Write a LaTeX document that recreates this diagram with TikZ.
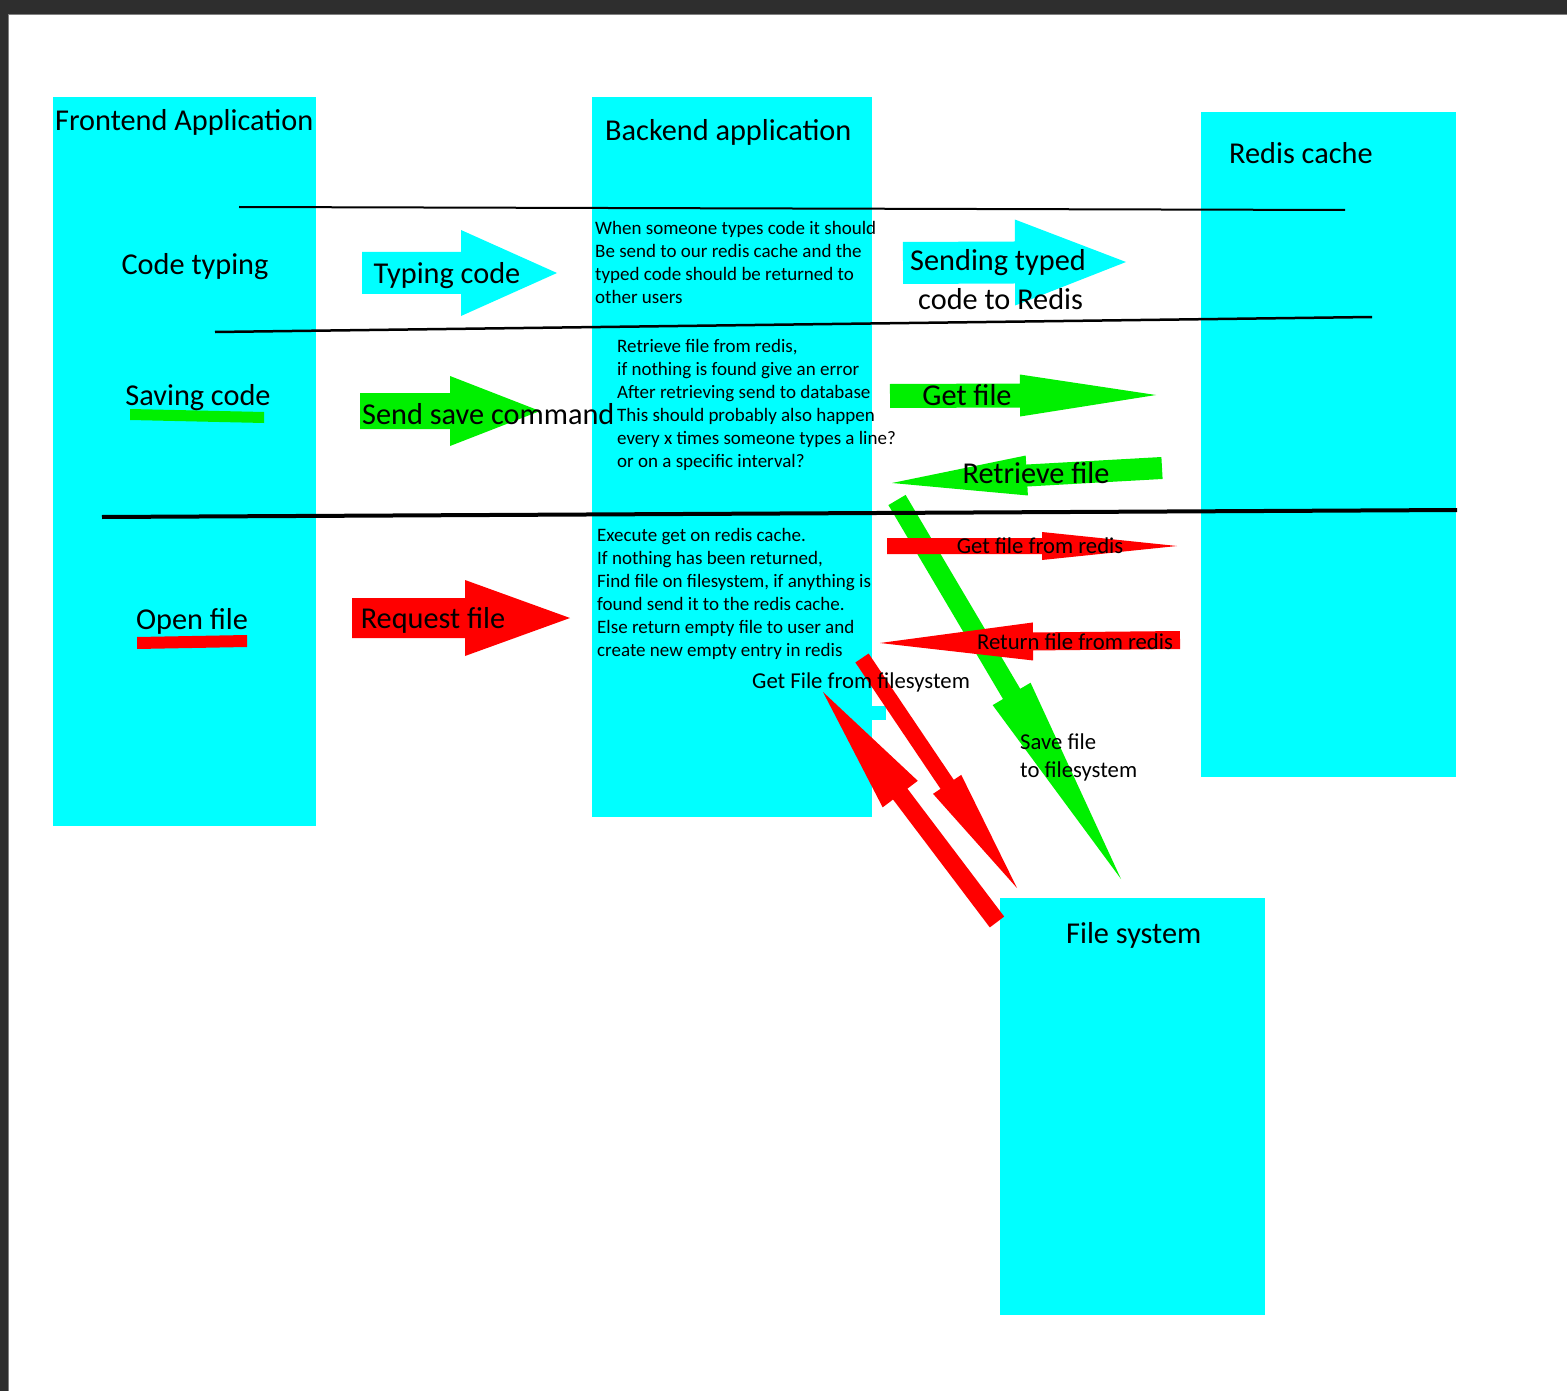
\documentclass[tikz,border=0pt]{standalone}
\usepackage{fontspec}
\setmainfont{Carlito}
\usetikzlibrary{calc}
\definecolor{lanecyan}{RGB}{0,255,255}
\definecolor{arrgreen}{RGB}{0,240,0}
\definecolor{arrred}{RGB}{255,0,0}
\definecolor{framegray}{RGB}{46,46,46}
% colour, tail, tip, shaft half width, head half width, head length
\newcommand{\blockarrow}[6]{%
  \coordinate (ba-h) at ($(#3)!#6!(#2)$);
  \fill[#1] ($(#2)!#4!90:(#3)$) -- ($(ba-h)!#4!90:(#3)$) -- ($(ba-h)!#5!90:(#3)$) -- (#3)
    -- ($(ba-h)!#5!-90:(#3)$) -- ($(ba-h)!#4!-90:(#3)$) -- ($(#2)!#4!-90:(#3)$) -- cycle;
}

\begin{document}
\begin{tikzpicture}[x=1pt, y=-1pt,
    lane/.style={fill=lanecyan, anchor=north west, inner sep=0pt, outer sep=0pt},
    heading/.style={font=\fontsize{30.3}{36}\selectfont, inner sep=0pt, anchor=west},
    lbl/.style={font=\fontsize{30.3}{36}\selectfont, inner sep=0pt},
    smalllbl/.style={font=\fontsize{22.7}{28}\selectfont, inner sep=0pt, align=left},
    desc/.style={font=\fontsize{19}{23}\selectfont, inner sep=0pt, align=left, anchor=base west}
]
\useasboundingbox (0,0) rectangle (1567,1391);
\fill[framegray] (0,0) rectangle (1567,1391);
\fill[white] (8,15) rectangle (1567,1391);
\draw[gray, line width=1pt] (8,1391) -- (8,15) -- (1567,15);

\node[lane, minimum width=263pt, minimum height=729pt] (front) at (53,97) {};
\node[lane, minimum width=280pt, minimum height=720pt] (back) at (592,97) {};
\node[lane, minimum width=255pt, minimum height=665pt] (redis) at (1201,112) {};
\node[lane, minimum width=265pt, minimum height=417pt] (files) at (1000,898) {};
\fill[lanecyan] (870,706) rectangle (886,720);

\fill[arrgreen] (130,409) -- (264,412) -- (264,423) -- (130,420) -- cycle;
\fill[arrred] (137,637) -- (247,635) -- (247,647) -- (137,649) -- cycle;

\coordinate (typeA) at (362,273);  \coordinate (typeB) at (557,273);
\coordinate (saveA) at (360,411);  \coordinate (saveB) at (540,411);
\coordinate (openA) at (352,618);  \coordinate (openB) at (570,618);
\coordinate (sendA) at (903,263);  \coordinate (sendB) at (1126,262);
\coordinate (getA) at (890,396);   \coordinate (getB) at (1156,395);
\coordinate (retA) at (1162,468);  \coordinate (retB) at (892,483);
\coordinate (diskA) at (897,500);  \coordinate (diskB) at (1121,879);
\coordinate (askA) at (887,546);   \coordinate (askB) at (1177,546);
\coordinate (backA) at (1180,640); \coordinate (backB) at (880,643);
\coordinate (fsA) at (862,658);    \coordinate (fsB) at (1017,888);
\coordinate (fsbA) at (997,922);   \coordinate (fsbB) at (823,692);

\blockarrow{lanecyan}{typeA}{typeB}{21pt}{43pt}{96pt}
\blockarrow{arrgreen}{saveA}{saveB}{18pt}{35pt}{90pt}
\blockarrow{arrred}{openA}{openB}{20pt}{38pt}{105pt}
\blockarrow{lanecyan}{sendA}{sendB}{21pt}{43pt}{111pt}
\blockarrow{arrgreen}{getA}{getB}{12pt}{21pt}{136pt}
\blockarrow{arrgreen}{retA}{retB}{11pt}{20pt}{135pt}
\blockarrow{arrgreen}{diskA}{diskB}{10pt}{22pt}{215pt}
\blockarrow{arrred}{askA}{askB}{8pt}{14pt}{135pt}
\blockarrow{arrred}{backA}{backB}{9pt}{19pt}{153pt}
\blockarrow{arrred}{fsA}{fsB}{8pt}{17pt}{125pt}
\blockarrow{arrred}{fsbA}{fsbB}{9pt}{22pt}{128pt}

\draw[line width=2pt] (239,207) -- (1345,210);
\draw[line width=2.5pt] (215,332) -- (1372,317);
\draw[line width=4pt] (102,517) -- (1457,510);

\node[heading] (frontT) at (55,122) {Frontend Application};
\node[heading] (backT) at (605,132) {Backend application};
\node[heading] (redisT) at (1229,153) {Redis cache};
\node[heading] (filesT) at (1066,935) {File system};

\node[lbl] (typingT) at (195,267) {Code typing};
\node[lbl] (savingT) at (198,398) {Saving code};
\node[lbl] (openT) at (192,621) {Open file};

\node[lbl] (typeL) at (447,276) {Typing code};
\node[heading] (saveL) at (362,414) {Send save command};
\node[lbl] (openL) at (433,620) {Request file};
\node[heading] (sendL) at (910,263) {Sending typed};
\node[heading] (sendL2) at (918,299) {code to Redis};
\node[lbl] (getL) at (967,395) {Get file};
\node[lbl] (retL) at (1036,473) {Retrieve file};
\node[smalllbl] (askL) at (1040,546) {Get file from redis};
\node[smalllbl] (backL) at (1075,642) {Return file from redis};
\node[smalllbl, anchor=west] (fsL) at (752,682) {Get File from filesystem};
\node[smalllbl, anchor=north west] (diskL) at (1020,734) {Save file\\to filesystem};

\node[desc] (typeD) at (595,303) {When someone types code it should\\Be send to our redis cache and the\\typed code should be returned to\\other users};
\node[desc] (saveD) at (617,467) {Retrieve file from redis,\\if nothing is found give an error\\After retrieving send to database\\This should probably also happen\\every x times someone types a line?\\or on a specific interval?};
\node[desc] (openD) at (597,656) {Execute get on redis cache.\\If nothing has been returned,\\Find file on filesystem, if anything is\\found send it to the redis cache.\\Else return empty file to user and\\create new empty entry in redis};
\end{tikzpicture}
\end{document}
